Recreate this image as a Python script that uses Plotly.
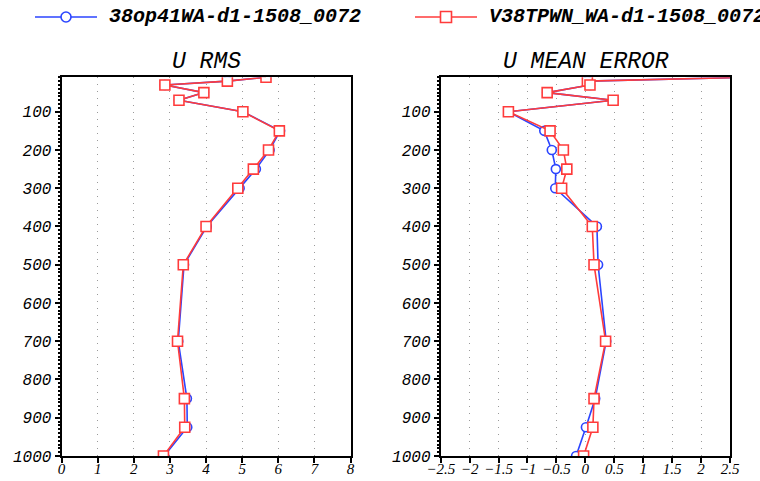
import plotly.graph_objects as go

levels = [10, 20, 30, 50, 70, 100, 150, 200, 250, 300, 400, 500, 700, 850, 925, 1000]

rms_a = [5.66, 4.59, 2.86, 3.94, 3.25, 5.02, 6.05, 5.76, 5.38, 4.93, 4.02, 3.39, 3.23, 3.47, 3.48, 2.84]
rms_b = [5.66, 4.59, 2.86, 3.94, 3.25, 5.02, 6.03, 5.73, 5.31, 4.88, 4.00, 3.37, 3.21, 3.40, 3.41, 2.82]

err_a = [2.8, 0.035, 0.08, -0.66, 0.48, -1.33, -0.71, -0.58, -0.51, -0.52, 0.20, 0.22, 0.36, 0.17, 0.01, -0.16]
err_b = [2.8, 0.035, 0.08, -0.66, 0.48, -1.33, -0.61, -0.38, -0.32, -0.41, 0.12, 0.15, 0.35, 0.15, 0.13, -0.03]

name_a = "38op41WA-d1-1508_0072"
name_b = "V38TPWN_WA-d1-1508_0072"
titles = ["U RMS", "U MEAN ERROR"]

rms_ticks = [0, 1, 2, 3, 4, 5, 6, 7, 8]
err_ticks = [-2.5, -2, -1.5, -1, -0.5, 0, 0.5, 1, 1.5, 2, 2.5]
p_ticks = [100, 200, 300, 400, 500, 600, 700, 800, 900, 1000]

BLUE = "#2b45ff"
RED = "#ff3b3b"
W, H = 760, 481

def px(x):
    return x / W

def py(y):
    return 1 - y / H

fig = go.Figure()
for xs, ax, color, sym, size in [
    (rms_a, "x", BLUE, "circle", 9),
    (rms_b, "x", RED, "square", 10),
    (err_a, "x2", BLUE, "circle", 9),
    (err_b, "x2", RED, "square", 10),
]:
    fig.add_trace(go.Scatter(
        x=xs, y=levels, xaxis=ax, yaxis="y" if ax == "x" else "y2",
        mode="lines+markers", showlegend=False,
        line=dict(color=color, width=1.6),
        marker=dict(symbol=sym, size=size, color="white", line=dict(color=color, width=1.6)),
    ))

tickfont_x = dict(family="Liberation Serif", size=15, color="black", style="italic")
tickfont_y = dict(family="Liberation Mono", size=16, color="black", style="italic")

def xaxis(dom, rng, ticks):
    return dict(
        domain=dom, range=rng, tickvals=ticks,
        ticktext=[("%g" % t).replace("-", "\u2212") for t in ticks],
        showgrid=True, griddash="1px,6px", gridcolor="#9a9a9a", gridwidth=1,
        showline=True, linecolor="black", linewidth=2, mirror=True,
        ticks="outside", ticklen=5, tickcolor="black", tickwidth=1.5,
        zeroline=False, tickfont=tickfont_x, tickangle=0, automargin=False,
        ticklabelstandoff=-7,
    )

def yaxis(anchor):
    return dict(
        domain=[py(456), py(77.3)], range=[1000, 10], anchor=anchor,
        tickvals=p_ticks, showgrid=False, zeroline=False,
        showline=True, linecolor="black", linewidth=2, mirror=True,
        ticks="outside", ticklen=5, tickcolor="black", tickwidth=1.5,
        tickfont=tickfont_y, automargin=False,
        minor=dict(ticks="outside", ticklen=2, tickcolor="black", tickmode="linear", tick0=0, dtick=10),
    )

fig.update_layout(
    width=W, height=H, template="none",
    paper_bgcolor="white", plot_bgcolor="white",
    margin=dict(l=0, r=0, t=0, b=0),
    xaxis=dict(xaxis([px(61.6), px(350.5)], [0, 8], rms_ticks), anchor="y"),
    yaxis=yaxis("x"),
    xaxis2=dict(xaxis([px(440.7), px(730)], [-2.5, 2.5], err_ticks), anchor="y2"),
    yaxis2=yaxis("x2"),
)

title_font = dict(family="Liberation Mono", size=23, color="black", style="italic")
for t, cx in zip(titles, [206, 586]):
    fig.add_annotation(text=t, x=px(cx), y=py(61.5), xref="paper", yref="paper",
                       showarrow=False, xanchor="center", yanchor="middle", font=title_font)

# legend
leg_font = dict(family="Liberation Mono", size=20, color="black", style="italic", weight="bold")
for (x0, x1, color, shape, name) in [
    (35, 97, BLUE, "circle", name_a),
    (415, 477, RED, "rect", name_b),
]:
    yc = 17
    fig.add_shape(type="line", xref="paper", yref="paper", x0=px(x0), x1=px(x1), y0=py(yc), y1=py(yc),
                  line=dict(color=color, width=1.6))
    cx = (x0 + x1) / 2
    r = 5 if shape == "circle" else 5.5
    fig.add_shape(type=shape, xref="paper", yref="paper", x0=px(cx - r), x1=px(cx + r),
                  y0=py(yc - r), y1=py(yc + r), fillcolor="white", line=dict(color=color, width=1.6))
    fig.add_annotation(text=name, x=px(x1 + 10), y=py(yc), xref="paper", yref="paper",
                       showarrow=False, xanchor="left", yanchor="middle", font=leg_font)

fig.write_html("out.html", config={"displayModeBar": False},
               post_script="document.body.style.margin='0';document.body.style.overflow='hidden';")
